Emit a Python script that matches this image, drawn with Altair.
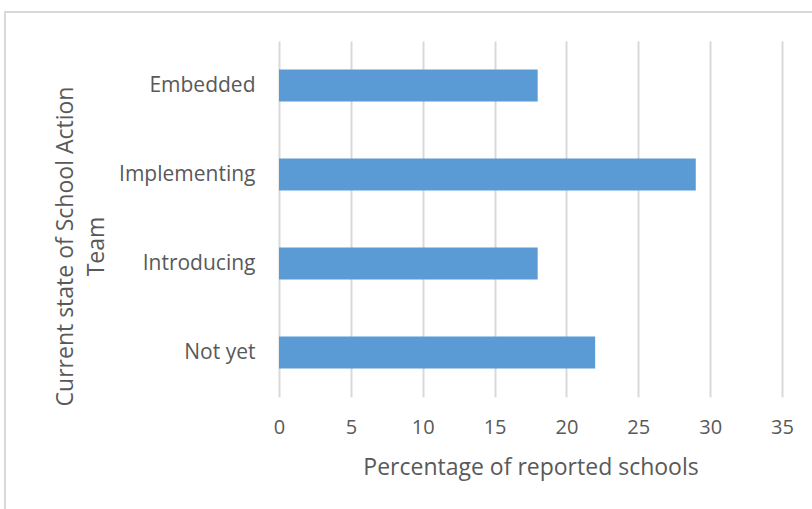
import altair as alt
import pandas as pd

# School Action Team status vs. share of reported schools (%)
stages = ["Embedded", "Implementing\u00a0", "Introducing", "Not yet"]
percentages = [18, 29, 18, 22]

df = pd.DataFrame({"stage": stages, "pct": percentages})

FONT = "Open Sans"
TEXT = "#595959"
GRID = "#d9d9d9"

bars = alt.Chart(df).mark_bar(color="#5b9bd5").encode(
    x=alt.X(
        "pct:Q",
        scale=alt.Scale(domain=[0, 35], nice=False),
        axis=alt.Axis(
            values=[0, 5, 10, 15, 20, 25, 30, 35],
            title="Percentage of reported schools",
            grid=True,
            gridColor=GRID,
            gridWidth=2,
            domain=False,
            ticks=False,
            labelFlush=False,
            labelPadding=20,
            labelFontSize=20,
            labelColor=TEXT,
            labelFont=FONT,
            titleFont=FONT,
            titleFontSize=23,
            titleFontWeight="normal",
            titleColor=TEXT,
            titlePadding=19,
        ),
    ),
    y=alt.Y(
        "stage:N",
        sort=stages,
        scale=alt.Scale(paddingInner=0.64, paddingOuter=0.32),
        axis=alt.Axis(
            title=["Current state of School Action", "Team"],
            domain=False,
            ticks=False,
            labelPadding=24,
            labelFontSize=21,
            labelColor=TEXT,
            labelFont=FONT,
            titleFont=FONT,
            titleFontSize=23,
            titleFontWeight="normal",
            titleColor=TEXT,
            titlePadding=10,
            titleLineHeight=31,
            titleY=205,
        ),
    ),
)

# light frame around the whole chart
frame = alt.Chart(df).mark_rect(
    fill=None, stroke=GRID, strokeWidth=2, clip=False
).encode(
    x=alt.value(-274), x2=alt.value(560), y=alt.value(-29), y2=alt.value(500)
)

chart = (
    alt.layer(frame, bars)
    .properties(
        width=503,
        height=356,
        padding={"left": 279, "top": 41, "right": 30, "bottom": 112},
        autosize=alt.AutoSizeParams(type="none"),
        background="white",
    )
    .configure_view(stroke=None)
)

chart.save("out.html", embed_options={"renderer": "svg", "actions": False})
